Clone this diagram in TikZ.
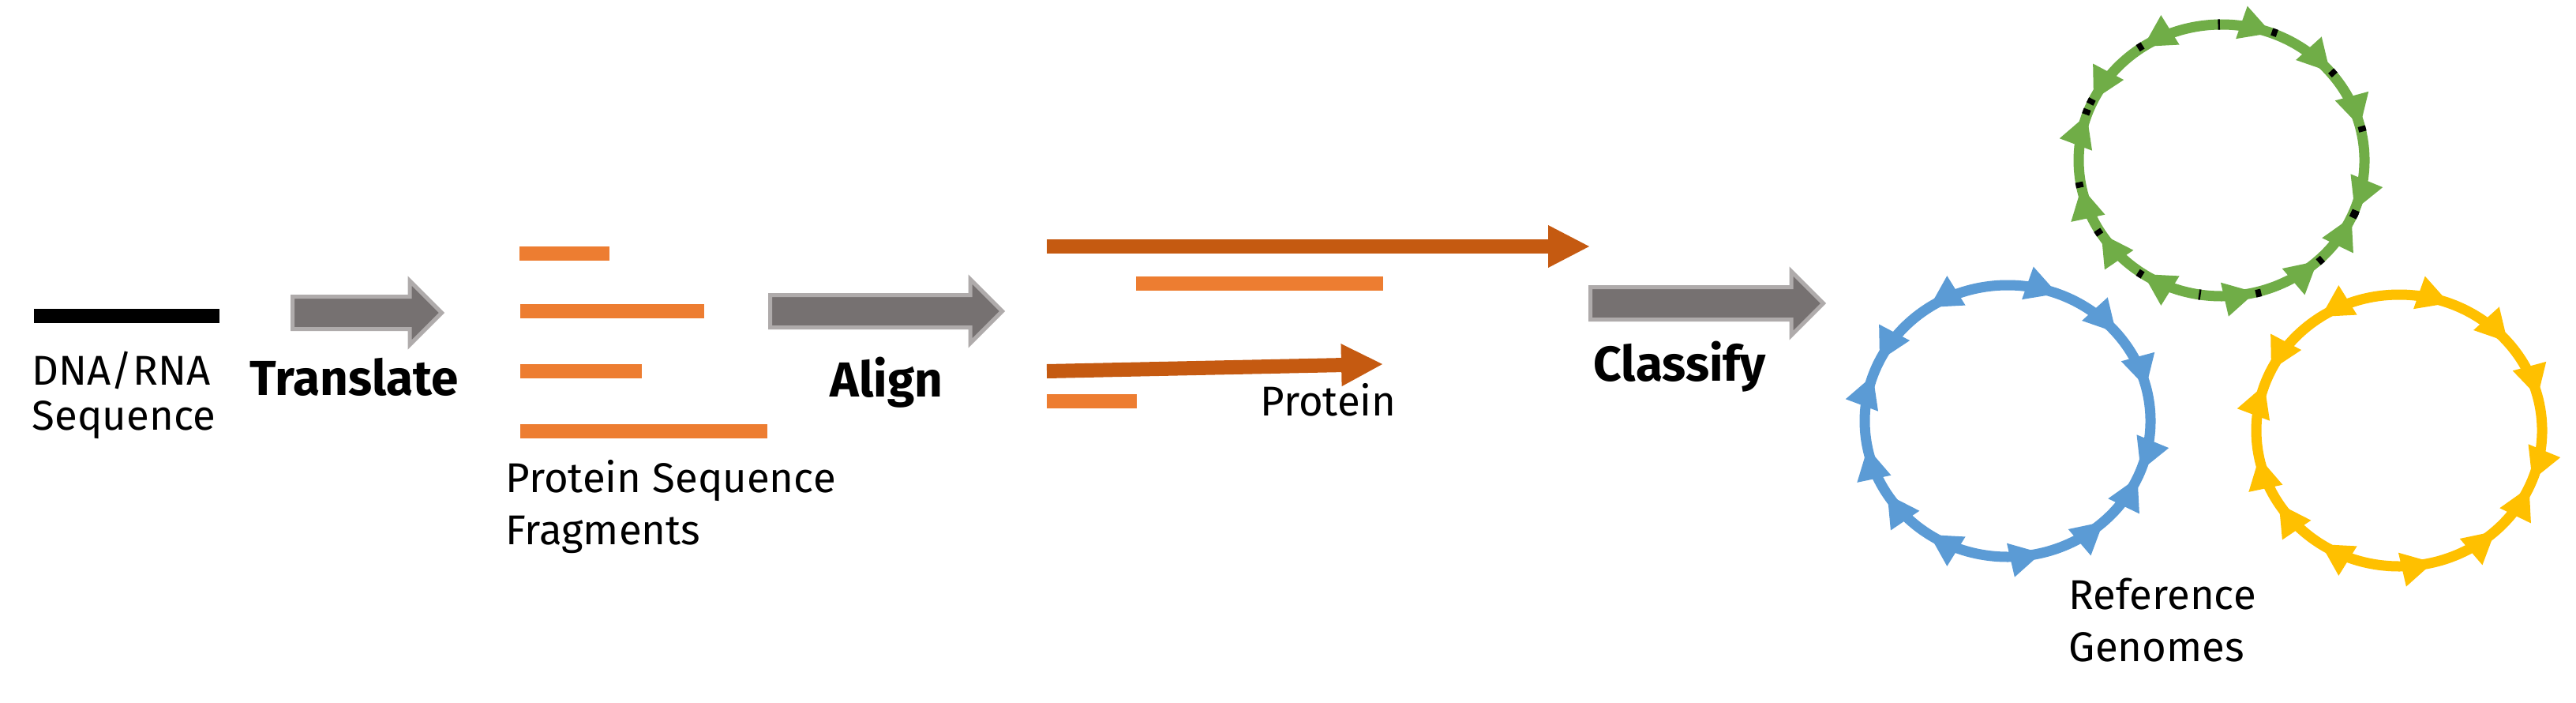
\documentclass[tikz,border=0pt]{standalone}
\usepackage{fontspec}
\setmainfont{Fira Sans}
\usetikzlibrary{arrows.meta,shapes.arrows,decorations.markings}
\definecolor{fragorange}{HTML}{ED7D31}
\definecolor{protorange}{HTML}{C55A11}
\definecolor{arrowgray}{HTML}{767171}
\definecolor{arrowedge}{HTML}{AFABAB}
\definecolor{ringblue}{HTML}{5B9BD5}
\definecolor{ringyellow}{HTML}{FFC000}
\definecolor{ringgreen}{HTML}{70AD47}

\begin{document}
\begin{tikzpicture}[
	>={Triangle[length=0.40cm, width=0.44cm, line width=0pt]},
	lbl/.style={inner sep=0pt, align=left, anchor=north west,
		font=\fontsize{15pt}{18.8pt}\selectfont},
	steplbl/.style={inner sep=0pt, anchor=base west,
		font=\fontsize{17.7pt}{20pt}\selectfont\bfseries},
	stagearrow/.style={single arrow, anchor=tail, draw=arrowedge, fill=arrowgray,
		line width=0.05cm, inner xsep=0pt, inner ysep=0.18cm,
		single arrow head extend=0.2cm},
	fragbar/.style={fragorange, line width=0.18cm},
	protarrow/.style={protorange, line width=0.18cm,
		-{Triangle[length=0.52cm, width=0.54cm, line width=0pt]}},
	genome/.style={line width=0.13cm, postaction={decorate},
		decoration={markings,
		mark=at position 0.039 with {\arrowreversed{>}},
		mark=at position 0.111 with {\arrowreversed{>}},
		mark=at position 0.192 with {\arrowreversed{>}},
		mark=at position 0.344 with {\arrow{>}},
		mark=at position 0.428 with {\arrow{>}},
		mark=at position 0.447 with {\arrowreversed{>}},
		mark=at position 0.531 with {\arrowreversed{>}},
		mark=at position 0.589 with {\arrowreversed{>}},
		mark=at position 0.656 with {\arrowreversed{>}},
		mark=at position 0.789 with {\arrow{>}},
		mark=at position 0.869 with {\arrow{>}},
		mark=at position 0.933 with {\arrow{>}},
		mark=at position 0.942 with {\arrowreversed{>}}}},
	genomeb/.style={line width=0.13cm, postaction={decorate},
		decoration={markings,
		mark=at position 0.039 with {\fill[black] (-0.07,-0.066) rectangle (0,0.03); \arrowreversed{>}},
		mark=at position 0.111 with {\fill[black] (-0.07,-0.066) rectangle (0,0.03); \arrowreversed{>}},
		mark=at position 0.192 with {\fill[black] (-0.07,-0.066) rectangle (0,0.03); \arrowreversed{>}},
		mark=at position 0.253 with {\fill[black] (-0.012,-0.066) rectangle (0.012,0.066);},
		mark=at position 0.344 with {\fill[black] (0,-0.066) rectangle (0.07,0.03); \arrow{>}},
		mark=at position 0.428 with {\fill[black] (0,-0.066) rectangle (0.07,0.03); \arrow{>}},
		mark=at position 0.447 with {\fill[black] (-0.07,-0.066) rectangle (0,0.03); \arrowreversed{>}},
		mark=at position 0.531 with {\fill[black] (-0.07,-0.066) rectangle (0,0.03); \arrowreversed{>}},
		mark=at position 0.589 with {\fill[black] (-0.07,-0.066) rectangle (0,0.03); \arrowreversed{>}},
		mark=at position 0.656 with {\fill[black] (-0.07,-0.066) rectangle (0,0.03); \arrowreversed{>}},
		mark=at position 0.725 with {\fill[black] (-0.012,-0.066) rectangle (0.012,0.066);},
		mark=at position 0.789 with {\fill[black] (0,-0.066) rectangle (0.07,0.03); \arrow{>}},
		mark=at position 0.869 with {\fill[black] (0,-0.066) rectangle (0.07,0.03); \arrow{>}},
		mark=at position 0.933 with {\fill[black] (0,-0.066) rectangle (0.07,0.03); \arrow{>}},
		mark=at position 0.942 with {\fill[black] (-0.07,-0.066) rectangle (0,0.03); \arrowreversed{>}}}}
]
	\useasboundingbox[fill=white] (0,0) rectangle (32.63,-8.89);

	% DNA/RNA read
	\draw[line width=0.18cm] (0.43,-4.00) -- (2.78,-4.00);
	\node[lbl, font=\fontsize{15pt}{16.2pt}\selectfont] (dnalbl) at (0.40,-4.44)
		{DNA/RNA\\Sequence};

	% Translate
	\node[stagearrow, minimum height=1.89cm] (trarrow) at (3.68,-3.96) {};
	\node[steplbl] (trlbl) at (3.16,-5.00) {Translate};

	% Protein fragments
	\draw[fragbar] (6.58,-3.21) -- (7.72,-3.21);
	\draw[fragbar] (6.59,-3.94) -- (8.92,-3.94);
	\draw[fragbar] (6.59,-4.70) -- (8.13,-4.70);
	\draw[fragbar] (6.59,-5.46) -- (9.72,-5.46);
	\node[lbl] (fraglbl) at (6.40,-5.82) {Protein Sequence\\Fragments};

	% Align
	\node[stagearrow, minimum height=2.94cm] (alarrow) at (9.73,-3.94) {};
	\node[steplbl] (allbl) at (10.51,-5.02) {Align};

	% Aligned proteins
	\draw[protarrow] (13.26,-3.12) -- (20.13,-3.12);
	\draw[fragbar] (14.39,-3.59) -- (17.52,-3.59);
	\draw[protarrow] (13.26,-4.70) -- (17.51,-4.61);
	\draw[fragbar] (13.26,-5.08) -- (14.40,-5.08);
	\node[lbl, anchor=base west] (protlbl) at (15.96,-5.26) {Protein};

	% Classify
	\node[stagearrow, minimum height=2.95cm] (clarrow) at (20.12,-3.84) {};
	\node[steplbl] (cllbl) at (20.18,-4.82) {Classify};

	% Reference genomes
	\draw[genome, ringblue] (25.43,-5.33) ellipse [x radius=1.81, y radius=1.72];
	\draw[genome, ringyellow] (30.39,-5.45) ellipse [x radius=1.81, y radius=1.72];
	\draw[genomeb, ringgreen] (28.14,-2.03) ellipse [x radius=1.81, y radius=1.72];
	\node[lbl] (reflbl) at (26.20,-7.31) {Reference\\Genomes};
\end{tikzpicture}
\end{document}
